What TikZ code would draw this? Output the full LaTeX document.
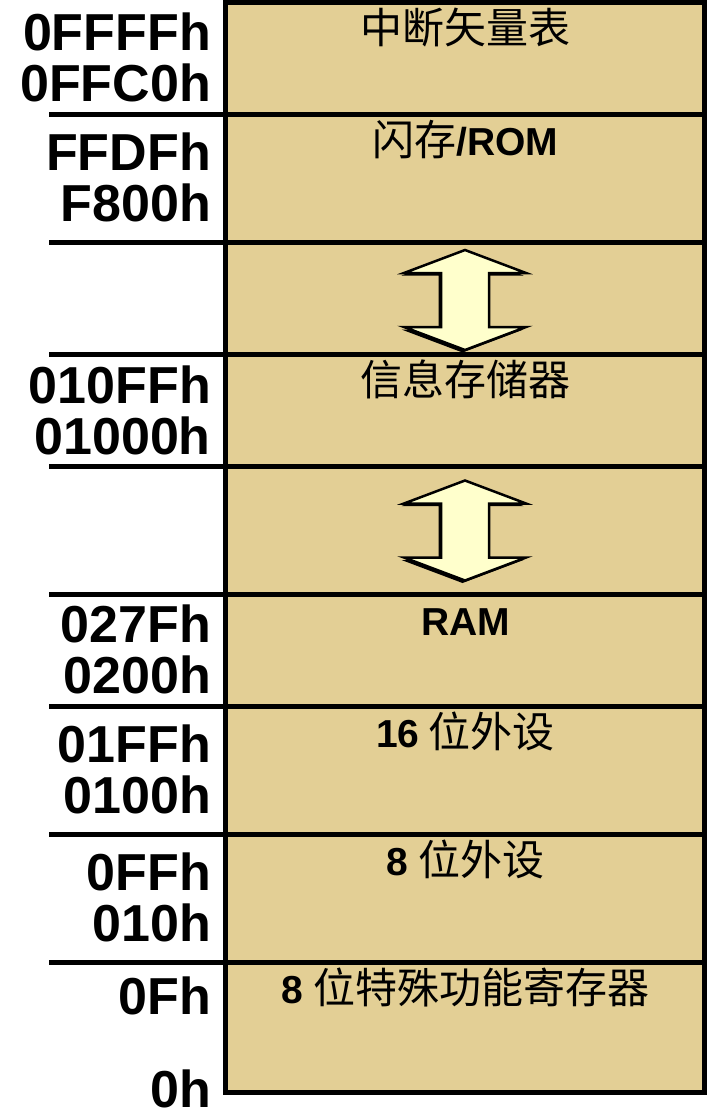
\documentclass[tikz,border=0pt]{standalone}
\usepackage{fontspec}
\setmainfont{Liberation Sans}
\newfontfamily\cjk{Noto Sans CJK SC}
\definecolor{boxfill}{HTML}{E3CF95}
\definecolor{arrowfill}{HTML}{FFFFCC}
\newcommand\latb[1]{{\normalfont\fontsize{39}{39}\selectfont\bfseries #1}}
\begin{document}
\begin{tikzpicture}[x=1pt,y=-1pt,
  addr/.style={anchor=base east, inner sep=0pt, font=\fontsize{52}{52}\selectfont\bfseries},
  sectitle/.style={anchor=base, inner sep=0pt, font=\fontsize{42}{42}\selectfont\cjk},
  sepline/.style={line width=4.5pt},
  border/.style={line width=5pt},
  pics/dblarrow/.style={code={
    \fill[black, shift={(-2.5,2.5)}] (0,-50) -- (61,-27) -- (24,-27) -- (24,27) -- (61,27) -- (0,50) -- (-61,27) -- (-24,27) -- (-24,-27) -- (-61,-27) -- cycle;
    \filldraw[fill=arrowfill, draw=black, line width=2.5pt, line join=miter] (0,-50) -- (61,-27) -- (24,-27) -- (24,27) -- (61,27) -- (0,50) -- (-61,27) -- (-24,27) -- (-24,-27) -- (-61,-27) -- cycle;
  }}]
\useasboundingbox (0,0) rectangle (708,1119);
% memory column
\fill[boxfill] (225,2.5) rectangle (704,1092.5);
\foreach \yy in {114.5,242.5,354.5,466.7,594.5,706.5,834.5,962.5}
  \draw[sepline] (49,\yy) -- (704,\yy);
\draw[border] (225,2.5) rectangle (704,1092.5);
% arrows
\pic at (465,300) {dblarrow};
\pic at (465,530.5) {dblarrow};
% section titles
\node[sectitle] (t1) at (465.5,43.5) {中断矢量表};
\node[sectitle] (t2) at (465.5,155.5) {闪存\latb{/ROM}};
\node[sectitle] (t3) at (465.5,395.5) {信息存储器};
\node[sectitle] (t4) at (465.5,635.5) {\latb{RAM}};
\node[sectitle] (t5) at (465.5,747.5) {\latb{16} 位外设};
\node[sectitle] (t6) at (465.5,875.5) {\latb{8} 位外设};
\node[sectitle] (t7) at (465.5,1003.5) {\latb{8} 位特殊功能寄存器};
% addresses
\node[addr] (a1) at (211,50.9) {0FFFFh};
\node[addr] (a2) at (211,101.9) {0FFC0h};
\node[addr] (a3) at (211,170.9) {FFDFh};
\node[addr] (a4) at (211,221.9) {F800h};
\node[addr] (a5) at (211,403) {010FFh};
\node[addr] (a6) at (211,454) {01000h};
\node[addr] (a7) at (211,642.9) {027Fh};
\node[addr] (a8) at (211,693.9) {0200h};
\node[addr] (a9) at (211,762.9) {01FFh};
\node[addr] (a10) at (211,813.9) {0100h};
\node[addr] (a11) at (211,890.9) {0FFh};
\node[addr] (a12) at (211,941.9) {010h};
\node[addr] (a13) at (211,1014) {0Fh};
\node[addr] (a14) at (211,1107) {0h};
\end{tikzpicture}
\end{document}
